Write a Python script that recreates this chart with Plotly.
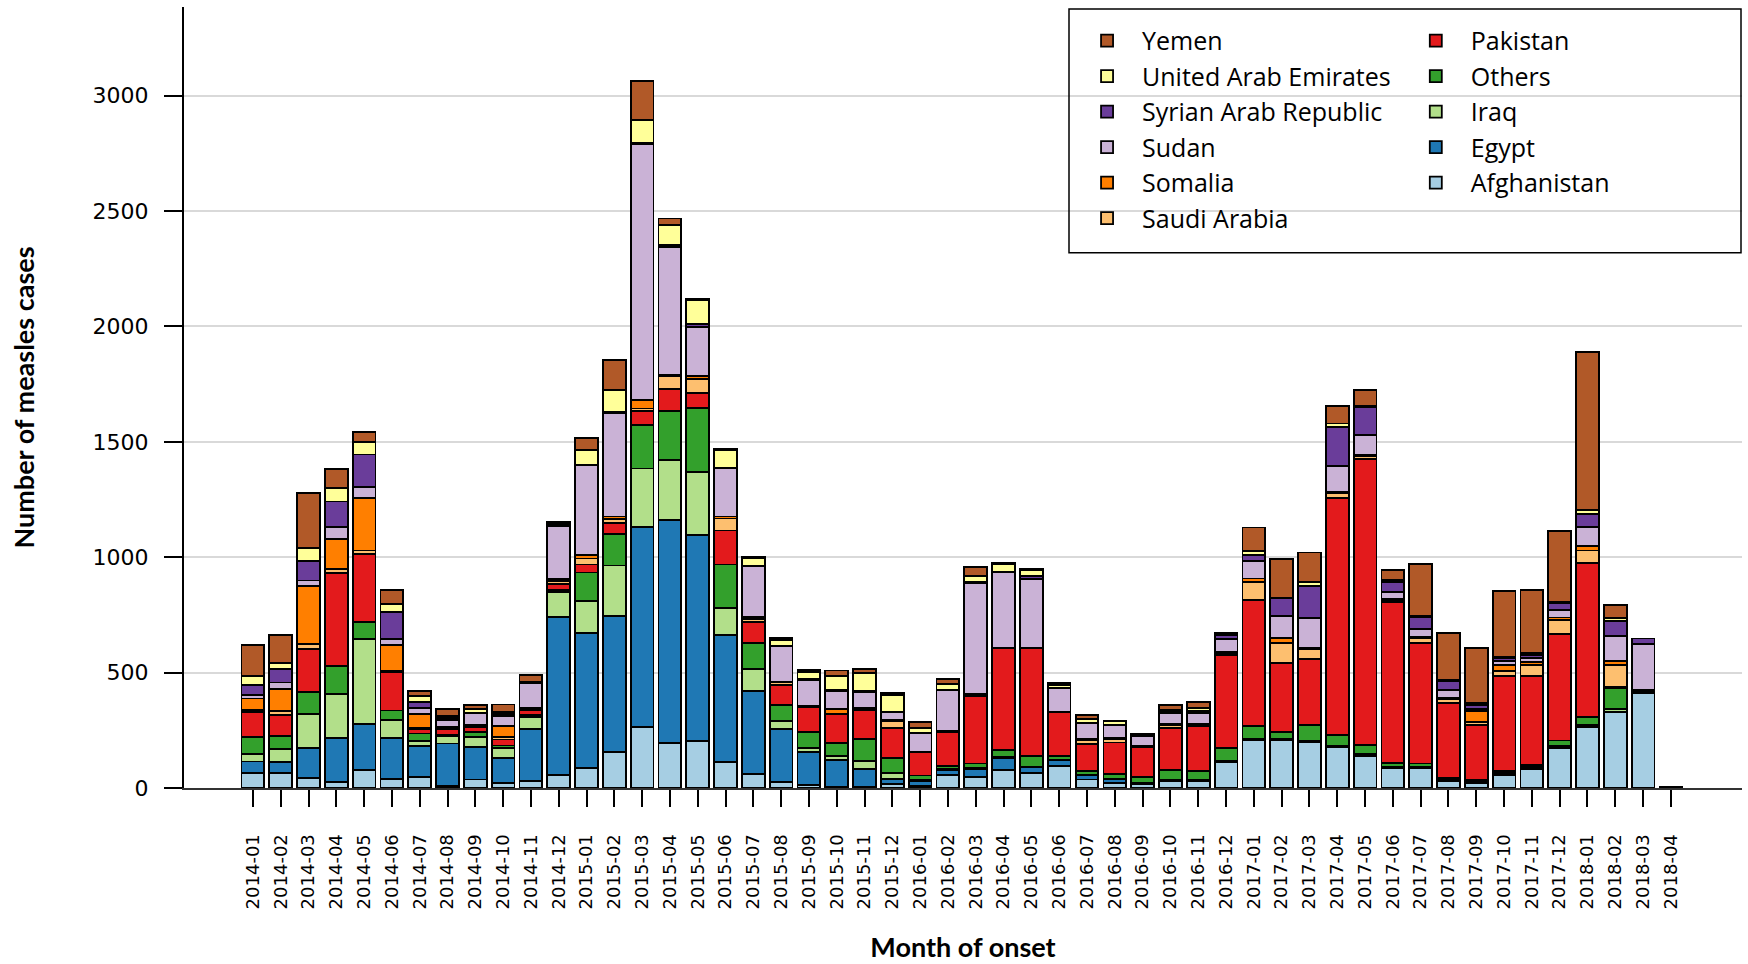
import plotly.graph_objects as go

# Month of onset (x categories)
months = [
    "2014-01", "2014-02", "2014-03", "2014-04", "2014-05", "2014-06", "2014-07", "2014-08",
    "2014-09", "2014-10", "2014-11", "2014-12", "2015-01", "2015-02", "2015-03", "2015-04",
    "2015-05", "2015-06", "2015-07", "2015-08", "2015-09", "2015-10", "2015-11", "2015-12",
    "2016-01", "2016-02", "2016-03", "2016-04", "2016-05", "2016-06", "2016-07", "2016-08",
    "2016-09", "2016-10", "2016-11", "2016-12", "2017-01", "2017-02", "2017-03", "2017-04",
    "2017-05", "2017-06", "2017-07", "2017-08", "2017-09", "2017-10", "2017-11", "2017-12",
    "2018-01", "2018-02", "2018-03", "2018-04",
]

# Measles cases per month, by country
afghanistan = [66, 66, 43, 26, 78, 40, 46, 8, 37, 23, 32, 57, 86, 156, 264, 196, 204, 112, 60, 26,
               14, 5, 5, 17, 9, 57, 49, 77, 66, 97, 37, 23, 17, 29, 29, 112, 207, 207, 198, 178,
               140, 86, 86, 29, 23, 57, 83, 175, 266, 327, 410, 4]
egypt = [49, 46, 132, 190, 201, 178, 135, 185, 141, 106, 224, 684, 584, 588, 868, 964, 892, 552, 360, 228,
         143, 115, 78, 23, 22, 20, 34, 54, 23, 23, 17, 14, 3, 5, 5, 3, 3, 3, 3, 3,
         3, 3, 3, 3, 3, 6, 6, 3, 3, 3, 3, 0]
iraq = [32, 58, 144, 192, 368, 75, 23, 31, 43, 43, 51, 110, 140, 220, 252, 260, 272, 116, 96, 35,
        17, 20, 34, 26, 6, 6, 3, 3, 2, 3, 3, 3, 3, 3, 3, 3, 3, 3, 2, 2,
        3, 3, 3, 2, 3, 3, 3, 3, 3, 14, 0, 0]
others = [74, 54, 98, 121, 74, 43, 32, 6, 23, 12, 9, 8, 124, 136, 188, 212, 280, 188, 112, 71,
          69, 54, 94, 65, 17, 11, 20, 29, 49, 14, 17, 20, 26, 41, 38, 57, 57, 31, 69, 46,
          40, 17, 14, 9, 8, 8, 8, 25, 35, 89, 0, 0]
pakistan = [107, 92, 186, 402, 293, 167, 20, 26, 20, 26, 20, 26, 34, 48, 60, 96, 64, 148, 92, 86,
            108, 126, 126, 129, 100, 149, 294, 443, 466, 192, 117, 137, 129, 183, 192, 400, 546, 299, 287, 1029,
            1238, 696, 522, 324, 235, 413, 384, 462, 667, 3, 5, 0]
saudi_arabia = [11, 17, 21, 17, 15, 4, 5, 0, 5, 11, 6, 12, 26, 16, 12, 56, 60, 52, 12, 11,
                3, 3, 3, 31, 3, 3, 3, 3, 3, 2, 18, 17, 3, 12, 6, 8, 75, 86, 43, 20,
                14, 6, 20, 17, 15, 20, 49, 60, 55, 97, 6, 0]
somalia = [49, 95, 250, 130, 227, 114, 61, 8, 6, 49, 6, 8, 15, 12, 36, 8, 12, 8, 8, 3,
           3, 20, 6, 6, 0, 0, 3, 0, 0, 0, 2, 3, 0, 6, 6, 6, 17, 20, 5, 6,
           6, 8, 5, 6, 45, 26, 14, 11, 20, 17, 0, 0]
sudan = [14, 29, 25, 54, 49, 23, 23, 29, 48, 43, 106, 230, 390, 448, 1112, 552, 212, 208, 220, 154,
         112, 77, 68, 32, 80, 177, 483, 325, 297, 100, 69, 54, 43, 46, 46, 58, 75, 95, 129, 111,
         86, 32, 35, 34, 9, 17, 15, 32, 83, 109, 201, 0]
syria = [46, 60, 84, 109, 140, 120, 29, 11, 3, 6, 3, 6, 3, 4, 4, 8, 16, 4, 4, 3,
         2, 6, 6, 2, 3, 3, 2, 3, 11, 3, 3, 3, 3, 5, 8, 14, 26, 78, 138, 169,
         120, 43, 51, 40, 20, 14, 14, 31, 54, 63, 23, 0]
uae = [38, 23, 57, 58, 55, 32, 23, 9, 15, 9, 3, 6, 61, 96, 100, 88, 104, 76, 32, 26,
       32, 60, 80, 72, 20, 25, 29, 34, 29, 12, 17, 15, 3, 9, 15, 6, 17, 3, 17, 15,
       6, 6, 6, 6, 6, 6, 9, 6, 20, 14, 0, 0]
yemen = [135, 124, 239, 83, 43, 63, 25, 29, 20, 34, 31, 5, 54, 132, 168, 28, 4, 4, 4, 6,
         8, 23, 17, 8, 26, 23, 37, 3, 3, 8, 17, 2, 3, 20, 26, 3, 103, 166, 129, 77,
         69, 46, 226, 203, 238, 284, 272, 304, 682, 58, 0, 0]

y_ticks = [0, 500, 1000, 1500, 2000, 2500, 3000]

# (name, values, colour, legend) in stacking order, bottom first
series = [
    ("Afghanistan", afghanistan, "#a6cee3", "legend2"),
    ("Egypt", egypt, "#1f78b4", "legend2"),
    ("Iraq", iraq, "#b2df8a", "legend2"),
    ("Others", others, "#33a02c", "legend2"),
    ("Pakistan", pakistan, "#e31a1c", "legend2"),
    ("Saudi Arabia", saudi_arabia, "#fdbf6f", "legend"),
    ("Somalia", somalia, "#ff7f00", "legend"),
    ("Sudan", sudan, "#cab2d6", "legend"),
    ("Syrian Arab Republic", syria, "#6a3d9a", "legend"),
    ("United Arab Emirates", uae, "#ffff99", "legend"),
    ("Yemen", yemen, "#b15928", "legend"),
]

fig = go.Figure()
for name, vals, color, leg in series:
    fig.add_trace(go.Bar(
        x=months, y=vals, name=name, legend=leg,
        marker=dict(color=color, line=dict(color="black", width=1.8)),
    ))

W, H = 1748, 964
L, R, T, B = 184, 6, 7, 172

tick_font = dict(family="DejaVu Sans", size=22, color="black")
title_font = dict(family="Lato", size=27, color="black", weight="bold")
legend_font = dict(family="Open Sans", size=25, color="black")

fig.update_layout(
    width=W, height=H,
    margin=dict(l=L, r=R, t=T, b=B, pad=0),
    paper_bgcolor="white", plot_bgcolor="white",
    barmode="stack", bargap=0.18,
    legend=dict(x=0.57, y=0.986, xanchor="left", yanchor="top", traceorder="reversed",
                font=legend_font, itemwidth=60, bgcolor="rgba(0,0,0,0)"),
    legend2=dict(x=0.781, y=0.986, xanchor="left", yanchor="top", traceorder="reversed",
                 font=legend_font, itemwidth=60, bgcolor="rgba(0,0,0,0)"),
    xaxis=dict(
        type="category", range=[-2.48, 53.56],
        tickangle=-90, tickfont=dict(family="DejaVu Sans", size=18, color="black"),
        ticks="outside", ticklen=17, tickwidth=2, tickcolor="black",
        ticklabelstandoff=20,
        showline=True, linecolor="#333333", linewidth=2,
        showgrid=False, zeroline=False,
        title=dict(text="Month of onset", font=title_font, standoff=30),
    ),
    yaxis=dict(
        range=[0, 3384], tickvals=y_ticks,
        tickfont=tick_font,
        ticks="outside", ticklen=18, tickwidth=2, tickcolor="black",
        ticklabelstandoff=11,
        showline=True, linecolor="black", linewidth=2,
        showgrid=True, gridcolor="#d9d9d9", gridwidth=2,
        zeroline=False,
        title=dict(text="Number of measles cases", font=title_font, standoff=50),
    ),
    shapes=[dict(type="rect", xref="paper", yref="paper",
                 x0=(1069 - L) / (W - L - R), x1=(1741 - L) / (W - L - R),
                 y0=(H - B - 254) / (H - B - T), y1=(H - B - 9) / (H - B - T),
                 line=dict(color="black", width=1.5), fillcolor="rgba(0,0,0,0)")],
)

fig.write_html("out.html")
